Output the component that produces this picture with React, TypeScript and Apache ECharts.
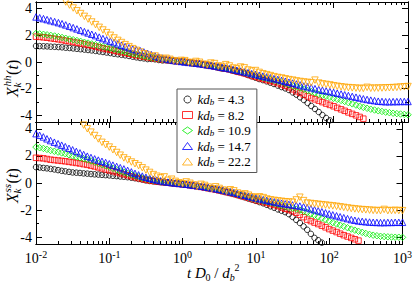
import React, { useEffect, useRef } from "react";
import * as echarts from "echarts";

// time axis t D0 / db^2 (log spaced samples)
const times = [
  0.01, 0.0112, 0.0126, 0.0141, 0.0158, 0.0178, 0.02, 0.0224, 0.0251, 0.0282,
  0.0316, 0.0355, 0.0398, 0.0447, 0.0501, 0.0562, 0.0631, 0.0708, 0.0794, 0.0891,
  0.1, 0.112, 0.126, 0.141, 0.158, 0.178, 0.2, 0.224, 0.251, 0.282,
  0.316, 0.355, 0.398, 0.447, 0.501, 0.562, 0.631, 0.708, 0.794, 0.891,
  1, 1.12, 1.26, 1.41, 1.58, 1.78, 2, 2.24, 2.51, 2.82,
  3.16, 3.55, 3.98, 4.47, 5.01, 5.62, 6.31, 7.08, 7.94, 8.91,
  10, 11.2, 12.6, 14.1, 15.8, 17.8, 20, 22.4, 25.1, 28.2,
  31.6, 35.5, 39.8, 44.7, 50.1, 56.2, 63.1, 70.8, 79.4, 89.1,
  100, 112, 126, 141, 158, 178, 200, 224, 251, 282,
  316, 355, 398, 447, 501, 562, 631, 708, 794, 891, 1000,
];

const kdValues = ["4.3", "8.2", "10.9", "14.7", "22.2"];

// upper panel X_k^hh(t)
const hh43 = [
  1.2, 1.19, 1.18, 1.17, 1.15, 1.14, 1.12, 1.1, 1.07, 1.05,
  1.02, 0.99, 0.96, 0.93, 0.9, 0.87, 0.83, 0.79, 0.75, 0.71,
  0.67, 0.62, 0.58, 0.54, 0.5, 0.45, 0.4, 0.35, 0.3, 0.27,
  0.22, 0.23, 0.2, 0.15, 0.12, 0.13, 0.11, 0.06, 0.04, 0.05,
  0.01, -0.05, -0.1, -0.1, -0.14, -0.22, -0.27, -0.29, -0.34, -0.43,
  -0.49, -0.51, -0.56, -0.66, -0.74, -0.78, -0.86, -0.98, -1.08, -1.18,
  -1.28, -1.36, -1.45, -1.55, -1.65, -1.77, -1.88, -1.98, -2.1, -2.28,
  -2.45, -2.65, -2.85, -3.07, -3.3, -3.52, -3.75, -3.98, -4.2, -4.38,
];
const hh82 = [
  1.9, 1.88, 1.85, 1.82, 1.78, 1.74, 1.7, 1.65, 1.6, 1.55,
  1.5, 1.45, 1.4, 1.34, 1.28, 1.22, 1.16, 1.1, 1.03, 0.97,
  0.92, 0.86, 0.8, 0.74, 0.68, 0.62, 0.56, 0.5, 0.45, 0.4,
  0.35, 0.31, 0.27, 0.23, 0.19, 0.15, 0.12, 0.09, 0.06, 0.03,
  0.0, -0.03, -0.07, -0.11, -0.15, -0.19, -0.24, -0.29, -0.34, -0.39,
  -0.45, -0.5, -0.56, -0.63, -0.7, -0.77, -0.85, -0.93, -1.02, -1.11,
  -1.2, -1.27, -1.35, -1.42, -1.5, -1.59, -1.68, -1.79, -1.9, -2.05,
  -2.2, -2.32, -2.45, -2.58, -2.7, -2.8, -2.9, -3.01, -3.12, -3.22,
  -3.32, -3.44, -3.55, -3.66, -3.78, -3.89, -4.0, -4.12, -4.25,
];
const hh109 = [
  2.14, 2.11, 2.08, 2.04, 2.0, 1.95, 1.9, 1.84, 1.78, 1.72,
  1.67, 1.61, 1.55, 1.48, 1.42, 1.36, 1.3, 1.23, 1.16, 1.1,
  1.04, 0.97, 0.9, 0.83, 0.76, 0.69, 0.62, 0.56, 0.5, 0.44,
  0.38, 0.33, 0.29, 0.24, 0.2, 0.16, 0.13, 0.09, 0.06, 0.03,
  0.0, -0.04, -0.07, -0.1, -0.14, -0.18, -0.22, -0.27, -0.32, -0.37,
  -0.43, -0.48, -0.54, -0.6, -0.66, -0.73, -0.8, -0.87, -0.95, -1.02,
  -1.1, -1.17, -1.24, -1.31, -1.38, -1.44, -1.5, -1.59, -1.68, -1.78,
  -1.87, -1.96, -2.05, -2.13, -2.22, -2.32, -2.42, -2.49, -2.56, -2.64,
  -2.72, -2.8, -2.88, -2.96, -3.05, -3.14, -3.23, -3.32, -3.4, -3.47,
  -3.54, -3.6, -3.66, -3.71, -3.76, -3.8, -3.84, -3.87, -3.9, -3.93,
  -3.96,
];
const hh147 = [
  3.38, 3.32, 3.25, 3.18, 3.1, 3.03, 2.95, 2.87, 2.78, 2.68,
  2.58, 2.48, 2.38, 2.28, 2.18, 2.08, 1.98, 1.87, 1.76, 1.66,
  1.56, 1.46, 1.36, 1.26, 1.16, 1.07, 0.98, 0.91, 0.85, 0.75,
  0.65, 0.55, 0.45, 0.37, 0.3, 0.23, 0.17, 0.12, 0.08, 0.04,
  0.0, -0.03, -0.06, -0.09, -0.13, -0.17, -0.21, -0.25, -0.3, -0.35,
  -0.4, -0.45, -0.5, -0.56, -0.62, -0.68, -0.74, -0.8, -0.87, -0.93,
  -1.0, -1.06, -1.12, -1.18, -1.25, -1.31, -1.38, -1.45, -1.52, -1.58,
  -1.65, -1.72, -1.8, -1.86, -1.93, -2.0, -2.07, -2.12, -2.17, -2.22,
  -2.28, -2.34, -2.4, -2.46, -2.52, -2.58, -2.64, -2.7, -2.76, -2.81,
  -2.86, -2.9, -2.94, -2.96, -2.98, -2.98, -2.97, -2.97, -2.96, -2.96,
  -2.96,
];
const hh222 = [
  6.6, 6.35, 6.1, 5.85, 5.6, 5.3, 5.05, 4.75, 4.5, 4.27,
  4.05, 3.84, 3.63, 3.42, 3.22, 3.0, 2.8, 2.6, 2.4, 2.2,
  2.0, 1.8, 1.62, 1.46, 1.3, 1.15, 1.0, 0.87, 0.75, 0.62,
  0.52, 0.4, 0.45, 0.3, 0.22, 0.28, 0.2, 0.1, 0.04, 0.12,
  0.1, -0.02, -0.08, 0.04, -0.02, -0.16, -0.22, -0.08, -0.12, -0.3,
  -0.34, -0.2, -0.3, -0.45, -0.52, -0.38, -0.44, -0.6, -0.68, -0.64,
  -0.78, -0.88, -0.95, -1.02, -1.1, -1.16, -1.2, -1.26, -1.32, -1.36,
  -1.42, -1.46, -1.5, -1.53, -1.55, -1.36, -1.58, -1.64, -1.68, -1.72,
  -1.78, -1.82, -1.86, -1.9, -1.92, -1.94, -1.96, -1.98, -1.98, -1.9,
  -1.97, -1.96, -1.96, -1.95, -1.94, -1.93, -1.92, -1.9, -1.88, -1.86,
  -1.84,
];

// lower panel X_k^ss(t)
const ss43 = [
  1.17, 1.14, 1.11, 1.08, 1.04, 1.0, 0.95, 0.9, 0.86, 0.82,
  0.78, 0.76, 0.74, 0.71, 0.69, 0.66, 0.64, 0.62, 0.6, 0.58,
  0.56, 0.53, 0.51, 0.48, 0.46, 0.43, 0.39, 0.35, 0.3, 0.25,
  0.19, 0.15, 0.12, 0.09, 0.06, 0.03, 0.01, -0.02, -0.04, -0.06,
  -0.09, -0.12, -0.16, -0.2, -0.24, -0.28, -0.33, -0.38, -0.43, -0.49,
  -0.55, -0.61, -0.68, -0.75, -0.82, -0.9, -0.98, -1.06, -1.15, -1.23,
  -1.32, -1.41, -1.5, -1.61, -1.72, -1.83, -1.95, -2.05, -2.15, -2.3,
  -2.5, -2.72, -2.95, -3.2, -3.45, -3.75, -4.05, -4.22, -4.4,
];
const ss82 = [
  1.86, 1.84, 1.82, 1.77, 1.72, 1.69, 1.66, 1.63, 1.6, 1.56,
  1.52, 1.48, 1.44, 1.39, 1.34, 1.28, 1.22, 1.15, 1.08, 1.0,
  0.93, 0.87, 0.8, 0.72, 0.65, 0.57, 0.5, 0.43, 0.36, 0.3,
  0.24, 0.19, 0.15, 0.11, 0.08, 0.05, 0.02, -0.01, -0.04, -0.07,
  -0.1, -0.13, -0.17, -0.21, -0.25, -0.29, -0.34, -0.39, -0.44, -0.49,
  -0.55, -0.61, -0.67, -0.73, -0.8, -0.87, -0.95, -1.02, -1.1, -1.18,
  -1.26, -1.33, -1.4, -1.47, -1.55, -1.62, -1.7, -1.8, -1.9, -1.99,
  -2.08, -2.2, -2.35, -2.52, -2.7, -2.81, -2.92, -3.03, -3.15, -3.27,
  -3.4, -3.51, -3.62, -3.74, -3.85, -3.95, -4.05, -4.15, -4.25,
];
const ss109 = [
  2.65, 2.6, 2.55, 2.48, 2.4, 2.34, 2.28, 2.22, 2.16, 2.08,
  2.0, 1.93, 1.86, 1.79, 1.72, 1.63, 1.54, 1.45, 1.36, 1.27,
  1.17, 1.08, 0.98, 0.89, 0.8, 0.71, 0.62, 0.53, 0.45, 0.37,
  0.3, 0.24, 0.19, 0.15, 0.11, 0.07, 0.04, 0.01, -0.02, -0.05,
  -0.08, -0.11, -0.15, -0.19, -0.23, -0.27, -0.32, -0.37, -0.42, -0.47,
  -0.52, -0.58, -0.64, -0.7, -0.76, -0.83, -0.9, -0.97, -1.05, -1.12,
  -1.2, -1.26, -1.33, -1.39, -1.45, -1.51, -1.58, -1.65, -1.72, -1.79,
  -1.86, -1.93, -2.0, -2.09, -2.18, -2.28, -2.38, -2.49, -2.6, -2.71,
  -2.82, -2.92, -3.02, -3.11, -3.2, -3.3, -3.4, -3.48, -3.56, -3.64,
  -3.72, -3.79, -3.85, -3.89, -3.93, -3.95, -3.97, -3.99, -4.0, -4.0,
  -4.01,
];
const ss147 = [
  3.64, 3.52, 3.4, 3.26, 3.13, 3.01, 2.9, 2.79, 2.68, 2.56,
  2.45, 2.33, 2.22, 2.1, 1.98, 1.88, 1.78, 1.69, 1.6, 1.51,
  1.42, 1.32, 1.22, 1.13, 1.04, 0.93, 0.82, 0.71, 0.6, 0.51,
  0.42, 0.35, 0.28, 0.22, 0.16, 0.11, 0.07, 0.03, 0.0, -0.03,
  -0.06, -0.09, -0.13, -0.16, -0.2, -0.24, -0.28, -0.32, -0.37, -0.42,
  -0.47, -0.52, -0.58, -0.64, -0.7, -0.76, -0.83, -0.9, -0.97, -1.03,
  -1.1, -1.16, -1.22, -1.28, -1.34, -1.39, -1.44, -1.49, -1.54, -1.58,
  -1.62, -1.66, -1.7, -1.76, -1.82, -1.9, -1.98, -2.05, -2.12, -2.2,
  -2.28, -2.35, -2.42, -2.49, -2.56, -2.63, -2.7, -2.75, -2.8, -2.83,
  -2.86, -2.88, -2.9, -2.91, -2.92, -2.92, -2.91, -2.91, -2.9, -2.9,
  -2.9,
];
const ss222 = [
  7.6, 7.35, 7.1, 6.85, 6.6, 6.35, 6.1, 5.85, 5.6, 5.35,
  5.1, 4.82, 4.55, 4.27, 4.0, 3.75, 3.5, 3.25, 3.0, 2.82,
  2.65, 2.45, 2.25, 2.05, 1.85, 1.7, 1.55, 1.42, 1.28, 1.12,
  0.95, 0.78, 0.62, 0.5, 0.38, 0.45, 0.2, 0.28, 0.12, 0.02,
  -0.05, 0.08, -0.02, -0.14, -0.26, -0.1, -0.18, -0.3, -0.42, -0.28,
  -0.4, -0.52, -0.62, -0.5, -0.58, -0.74, -0.86, -0.8, -0.9, -1.02,
  -1.1, -1.02, -1.08, -1.18, -1.24, -1.28, -1.32, -1.35, -1.38, -1.4,
  -1.42, -1.25, -1.05, -1.3, -1.48, -1.51, -1.54, -1.57, -1.6, -1.63,
  -1.66, -1.69, -1.72, -1.76, -1.8, -1.84, -1.88, -1.91, -1.94, -1.96,
  -1.98, -2.0, -2.02, -2.03, -2.04, -1.95, -2.04, -2.03, -2.02, -2.03,
  -2.04,
];

const hhSeries = [hh43, hh82, hh109, hh147, hh222];
const ssSeries = [ss43, ss82, ss109, ss147, ss222];

const colors = ["#000000", "#ff0000", "#00ee00", "#0000ff", "#ffa500"];
const symbols = ["circle", "rect", "diamond", "triangle", "triangle"];
const symbolSizes = [5.5, 5.5, 6.5, 6.5, 6.5];
const symbolRotations = [0, 0, 0, 0, 180];

const xMajorTicks = [0.01, 0.1, 1, 10, 100, 1000];
const xMinorTicks = [
  0.02, 0.03, 0.04, 0.05, 0.06, 0.07, 0.08, 0.09,
  0.2, 0.3, 0.4, 0.5, 0.6, 0.7, 0.8, 0.9,
  2, 3, 4, 5, 6, 7, 8, 9,
  20, 30, 40, 50, 60, 70, 80, 90,
  200, 300, 400, 500, 600, 700, 800, 900,
];
const yMajorTicks = [-4, -2, 0, 2, 4];
const yMinorTicks = [-3, -1, 1, 3];

const FONT = "'Liberation Serif', 'Times New Roman', serif";

function xAxis(grid: number, pos: string, ticks: number[], len: number, labels: boolean) {
  return {
    type: "log",
    logBase: 10,
    gridIndex: grid,
    position: pos,
    min: 0.01,
    max: 1000,
    axisLine: { show: true, onZero: false, lineStyle: { color: "#000", width: 1 } },
    axisTick: { show: true, inside: true, length: len, customValues: ticks, lineStyle: { color: "#000", width: 1 } },
    axisLabel: labels
      ? {
          show: true,
          customValues: xMajorTicks,
          margin: 5,
          formatter: (v: number) => `{b|10}{s|${Math.round(Math.log10(v))}}`,
          rich: {
            b: { fontFamily: FONT, fontSize: 14, color: "#000", lineHeight: 16, verticalAlign: "bottom" },
            s: { fontFamily: FONT, fontSize: 10, color: "#000", lineHeight: 8, verticalAlign: "top" },
          },
        }
      : { show: false },
    splitLine: { show: false },
  };
}

function yAxis(grid: number, pos: string, ticks: number[], len: number, labels: boolean) {
  return {
    type: "value",
    gridIndex: grid,
    position: pos,
    min: -4.5,
    max: 4.5,
    axisLine: { show: true, onZero: false, lineStyle: { color: "#000", width: 1 } },
    axisTick: { show: true, inside: true, length: len, customValues: ticks, lineStyle: { color: "#000", width: 1 } },
    axisLabel: labels
      ? { show: true, customValues: yMajorTicks, margin: 4, fontFamily: FONT, fontSize: 14, color: "#000" }
      : { show: false },
    splitLine: { show: false },
  };
}

function txt(text: string, tx: number, ty: number, size: number, italic: boolean) {
  return {
    type: "text",
    x: tx,
    y: ty,
    style: {
      text,
      fontFamily: FONT,
      fontSize: size,
      fontStyle: italic ? "italic" : "normal",
      fill: "#000",
      verticalAlign: "middle",
      align: "left",
    },
  };
}

function yTitle(x: number, y: number, sup: string, supW: number) {
  return {
    type: "group",
    x,
    y,
    rotation: Math.PI / 2,
    children: [
      txt("X", 0, 0, 16, true),
      txt("k", 9.5, 4.5, 11, true),
      txt(sup, 10.5, -5.5, 11, true),
      txt("(", 11 + supW, 0, 16, false),
      txt("t", 16.5 + supW, 0, 16, true),
      txt(")", 21 + supW, 0, 16, false),
    ],
  };
}

function xTitle(x: number, y: number) {
  return {
    type: "group",
    x,
    y,
    children: [
      txt("t D", 0, 0, 15, true),
      txt("0", 18.5, 4, 10, false),
      txt(" / ", 23.5, 0, 15, false),
      txt("d", 35.2, 0, 15, true),
      txt("b", 42.7, 4, 10, true),
      txt("2", 47.5, -6, 10, false),
    ],
  };
}

export default function App() {
  const ref = useRef<HTMLDivElement>(null);
  useEffect(() => {
    if (!ref.current) return;
    const chart = echarts.init(ref.current, null, { renderer: "svg" });

    const series: any[] = [];
    [hhSeries, ssSeries].forEach((lists, panel) => {
      lists.forEach((vals, k) => {
        series.push({
          type: "scatter",
          name: kdValues[k],
          xAxisIndex: panel * 4,
          yAxisIndex: panel * 4,
          data: vals.map((v, i) => [times[i], v]),
          symbol: symbols[k],
          symbolSize: symbolSizes[k],
          symbolRotate: symbolRotations[k],
          clip: true,
          itemStyle: { color: "rgba(0,0,0,0)", borderColor: colors[k], borderWidth: 1 },
          emphasis: { disabled: true },
        });
      });
    });

    chart.setOption({
      animation: false,
      backgroundColor: "#fff",
      grid: [
        { left: 36, top: 2, width: 372, height: 120 },
        { left: 36, top: 122, width: 372, height: 122 },
      ],
      xAxis: [
        xAxis(0, "bottom", xMajorTicks, 6, false),
        xAxis(0, "top", xMajorTicks, 6, false),
        xAxis(0, "bottom", xMinorTicks, 3, false),
        xAxis(0, "top", xMinorTicks, 3, false),
        xAxis(1, "bottom", xMajorTicks, 6, true),
        xAxis(1, "top", xMajorTicks, 6, false),
        xAxis(1, "bottom", xMinorTicks, 3, false),
        xAxis(1, "top", xMinorTicks, 3, false),
      ],
      yAxis: [
        yAxis(0, "left", yMajorTicks, 6, true),
        yAxis(0, "right", yMajorTicks, 6, false),
        yAxis(0, "left", yMinorTicks, 3, false),
        yAxis(0, "right", yMinorTicks, 3, false),
        yAxis(1, "left", yMajorTicks, 6, true),
        yAxis(1, "right", yMajorTicks, 6, false),
        yAxis(1, "left", yMinorTicks, 3, false),
        yAxis(1, "right", yMinorTicks, 3, false),
      ],
      legend: {
        show: true,
        orient: "vertical",
        left: 177,
        top: 89,
        selectedMode: false,
        data: kdValues.map((n, i) => ({
          name: n,
          itemStyle: { color: "rgba(0,0,0,0)", borderColor: colors[i], borderWidth: 1 },
        })),
        itemWidth: 10,
        itemHeight: 7,
        itemGap: 2,
        padding: [4, 6, 4, 5],
        backgroundColor: "#fff",
        borderColor: "#555",
        borderWidth: 1,
        borderRadius: 0,
        formatter: (n: string) => `{i|kd}{s|b}{r| = ${n}}`,
        textStyle: {
          fontFamily: FONT,
          fontSize: 13,
          color: "#000",
          rich: {
            i: { fontFamily: FONT, fontSize: 13, fontStyle: "italic", color: "#000", lineHeight: 14 },
            s: { fontFamily: FONT, fontSize: 9, fontStyle: "italic", color: "#000", lineHeight: 8, verticalAlign: "bottom" },
            r: { fontFamily: FONT, fontSize: 13, color: "#000", lineHeight: 14 },
          },
        },
      },
      graphic: [yTitle(12.5, 97, "hh", 11), yTitle(12.5, 203, "ss", 8.6), xTitle(187, 273)],
      series,
    });
    return () => chart.dispose();
  }, []);
  return <div ref={ref} style={{ position: "fixed", left: 0, top: 0, width: 415, height: 283 }} />;
}
